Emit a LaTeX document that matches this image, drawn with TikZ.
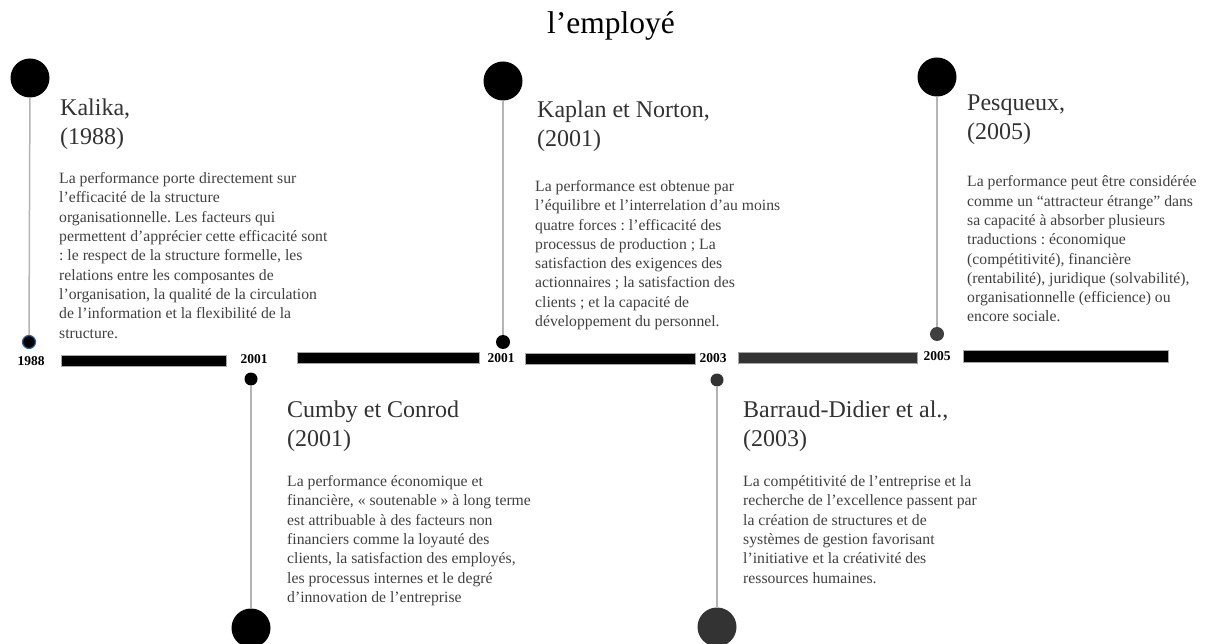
\documentclass[tikz,border=0pt]{standalone}
\usepackage{fontspec}
\setmainfont{Liberation Serif}
\usepackage{tikz}
\definecolor{tlgray}{RGB}{180,180,180}
\definecolor{tlhead}{RGB}{50,50,50}
\definecolor{tltext}{RGB}{64,64,64}
\definecolor{tldark}{RGB}{51,51,51}
\definecolor{tlblue}{RGB}{40,100,170}
\frenchspacing

\begin{document}
\begin{tikzpicture}[x=1pt, y=-1pt,
    bigdot/.style={circle, fill=#1, inner sep=0pt, minimum size=39pt},
    smalldot/.style={circle, fill=#1, inner sep=0pt, minimum size=13pt},
    stem/.style={tlgray, line width=1.5pt},
    author/.style={anchor=base west, align=left, inner sep=0pt, text=tlhead, %
      font=\fontsize{24}{29}\selectfont},
    body/.style={anchor=base west, align=left, inner sep=0pt, text=tltext, %
      font=\fontsize{15.7}{19.3}\selectfont},
    year/.style={inner sep=0pt, font=\fontsize{13.5}{14}\selectfont\bfseries},
    bar/.style={fill=#1, draw=gray!70, line width=0.6pt}]
  \useasboundingbox (0,0) rectangle (1205,644);

  % Title
  \node[anchor=base, inner sep=0pt, font=\fontsize{31.5}{34}\selectfont] %
    (title) at (611,34) {l’employé};

  % Timeline bars
  \fill[bar=black] (61,355) rectangle (226,366);
  \fill[bar=black] (297,352) rectangle (479,363);
  \fill[bar=black] (525,353) rectangle (695,364);
  \fill[bar=tldark] (738,352) rectangle (917,363);
  \fill[bar=black] (963,350) rectangle (1168,362);

  % Years on the timeline
  \node[year] (y1988) at (31,361) {1988};
  \node[year] (y2001a) at (254,359) {2001};
  \node[year] (y2001b) at (501,358) {2001};
  \node[year] (y2003) at (713,358) {2003};
  \node[year] (y2005) at (937,356) {2005};

  % Kalika (top), texts placed by the baseline of their last line
  \node[bigdot=black] (kalTop) at (30,78) {};
  \node[smalldot=black, draw=tlblue, line width=1.2pt] (kalEnd) at (29,342) {};
  \draw[stem] (kalTop) -- (kalEnd);
  \node[author] (kalName) at (60,145) {Kalika,\\(1988)};
  \node[body] (kalText) at (59,338) {%
    La performance porte directement sur\\
    l'efficacité de la structure\\
    organisationnelle. Les facteurs qui\\
    permettent d'apprécier cette efficacité sont\\
    : le respect de la structure formelle, les\\
    relations entre les composantes de\\
    l'organisation, la qualité de la circulation\\
    de l'information et la flexibilité de la\\
    structure.};

  % Cumby et Conrod (bottom)
  \node[smalldot=black] (cumTop) at (251,379) {};
  \node[bigdot=black] (cumEnd) at (251,628) {};
  \draw[stem] (cumTop) -- (cumEnd);
  \node[author] (cumName) at (287,446) {Cumby et Conrod\\(2001)};
  \node[body] (cumText) at (287,602.3) {%
    La performance économique et\\
    financière, « soutenable » à long terme\\
    est attribuable à des facteurs non\\
    financiers comme la loyauté des\\
    clients, la satisfaction des employés,\\
    les processus internes et le degré\\
    d'innovation de l'entreprise};

  % Kaplan et Norton (top)
  \node[bigdot=black] (kapTop) at (503,81) {};
  \node[smalldot=black, minimum size=14pt] (kapEnd) at (503,342) {};
  \draw[stem] (kapTop) -- (kapEnd);
  \node[author] (kapName) at (537,147) {Kaplan et Norton,\\(2001)};
  \node[body] (kapText) at (535,326.6) {%
    La performance est obtenue par\\
    l'équilibre et l'interrelation d'au moins\\
    quatre forces : l'efficacité des\\
    processus de production ; La\\
    satisfaction des exigences des\\
    actionnaires ; la satisfaction des\\
    clients ; et la capacité de\\
    développement du personnel.};

  % Barraud-Didier et al. (bottom)
  \node[smalldot=tldark] (barTop) at (717,380) {};
  \node[bigdot=tldark] (barEnd) at (717,627) {};
  \draw[stem] (barTop) -- (barEnd);
  \node[author] (barName) at (743,446) {Barraud-Didier et al.,\\(2003)};
  \node[body] (barText) at (743,583) {%
    La compétitivité de l'entreprise et la\\
    recherche de l'excellence passent par\\
    la création de structures et de\\
    systèmes de gestion favorisant\\
    l'initiative et la créativité des\\
    ressources humaines.};

  % Pesqueux (top)
  \node[bigdot=black] (pesTop) at (937,77) {};
  \node[smalldot=tltext, minimum size=14pt] (pesEnd) at (937,334) {};
  \draw[stem] (pesTop) -- (pesEnd);
  \node[author] (pesName) at (967,140) {Pesqueux,\\(2005)};
  \node[body] (pesText) at (967,322) {%
    La performance peut être considérée\\
    comme un ``attracteur étrange'' dans\\
    sa capacité à absorber plusieurs\\
    traductions : économique\\
    (compétitivité), financière\\
    (rentabilité), juridique (solvabilité),\\
    organisationnelle (efficience) ou\\
    encore sociale.};
\end{tikzpicture}
\end{document}
